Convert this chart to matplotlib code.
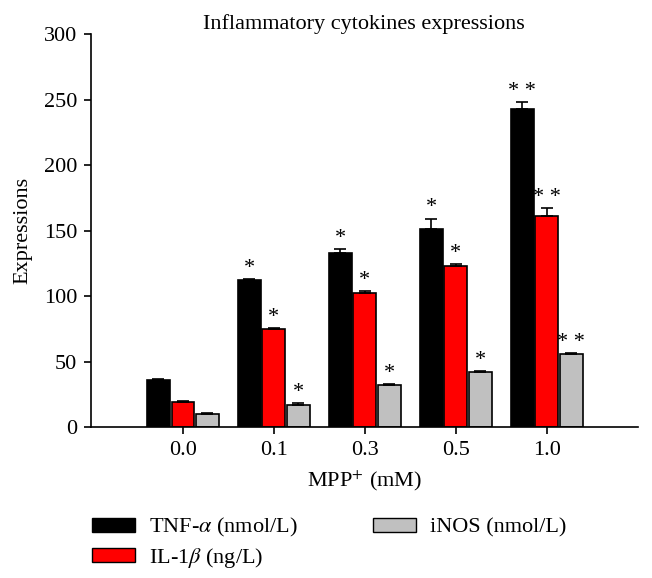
import numpy as np
import matplotlib.pyplot as plt
from matplotlib.patches import Patch

plt.rcParams['font.family'] = ['Liberation Serif', 'DejaVu Serif']
plt.rcParams['mathtext.fontset'] = 'stix'

doses = ["0.0", "0.1", "0.3", "0.5", "1.0"]
tnf = [36, 112, 133, 151, 243]
il1b = [19, 75, 102, 123, 161]
inos = [10, 17, 32, 42, 56]
tnf_err = [1, 1, 3, 8, 5]
il1b_err = [0.5, 0.5, 1.5, 1.5, 6]
inos_err = [1, 1, 0.5, 0.5, 0.5]
tnf_sig = ["", "*", "*", "*", "* *"]
il1b_sig = ["", "*", "*", "*", "* *"]
inos_sig = ["", "*", "*", "*", "* *"]

series = [
    (tnf, tnf_err, tnf_sig, "black", r"TNF-$\alpha$ (nmol/L)"),
    (il1b, il1b_err, il1b_sig, "#ff0000", r"IL-1$\beta$ (ng/L)"),
    (inos, inos_err, inos_sig, "#c0c0c0", "iNOS (nmol/L)"),
]

fs = 16
fig = plt.figure(figsize=(6.52, 5.78), dpi=100)
ax = fig.add_axes([0.1396, 0.2612, 0.8384, 0.6798])

x = np.arange(len(doses))
width = 0.25
offsets = [-0.27, 0, 0.27]
for (vals, err, sig, col, lab), off in zip(series, offsets):
    ax.bar(x + off, vals, width=width, color=col, edgecolor="black", linewidth=1.2,
           yerr=[np.zeros(len(err)), err], capsize=4,
           error_kw=dict(ecolor="black", elinewidth=1.2, capthick=1.2))
    for xi, v, e, s in zip(x + off, vals, err, sig):
        if s:
            ax.text(xi, v + e + 1, s, ha="center", va="bottom", fontsize=fs)

ax.set_xlim(-1.01, 5.0)
ax.set_ylim(0, 300)
ax.set_yticks(range(0, 301, 50))
ax.set_xticks(x)
ax.set_xticklabels(doses)
ax.tick_params(axis="both", labelsize=fs, direction="out", length=5, width=1.2, pad=5)
for sp in ["top", "right"]:
    ax.spines[sp].set_visible(False)
for sp in ["left", "bottom"]:
    ax.spines[sp].set_linewidth(1.2)

ax.set_title("Inflammatory cytokines expressions", fontsize=fs, pad=4)
ax.set_ylabel("Expressions", fontsize=fs, labelpad=8)
ax.set_xlabel(r"MPP$^{+}$ (mM)", fontsize=fs, labelpad=6)

handles = [Patch(facecolor=c, edgecolor="black", label=l) for _, _, _, c, l in series]
fig.legend(handles=handles, loc="upper left", bbox_to_anchor=(0.141, 0.107), ncol=2,
           frameon=False, fontsize=fs, handlelength=1.95, handleheight=0.55,
           handletextpad=0.6, columnspacing=3.4, labelspacing=0.3,
           borderpad=0, borderaxespad=0)

fig.savefig("out.png", dpi=100)
